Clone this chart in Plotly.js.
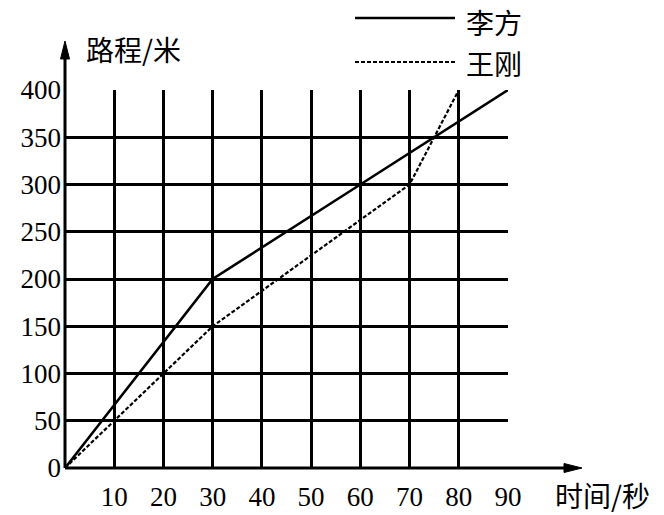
<!DOCTYPE html>
<html><head><meta charset="utf-8">
<script src="https://cdn.plot.ly/plotly-3.0.1.min.js"></script>
<style>body{margin:0;background:#fff}#c{width:664px;height:515px}</style>
</head><body><div id="c"></div>
<script>
// Data
const timeLi = [0, 30, 60, 90];
const distLi = [0, 200, 300, 400];
const timeWang = [0, 30, 70, 80];
const distWang = [0, 150, 300, 400];
const xTicks = [10, 20, 30, 40, 50, 60, 70, 80, 90];
const yTicks = [0, 50, 100, 150, 200, 250, 300, 350, 400];
const nameLi = '李方', nameWang = '王刚';
const xTitle = '时间/秒', yTitle = '路程/米';

const W = 664, H = 515, L = 65, R = 156, T = 90, B = 47;
const pw = W - L - R, ph = H - T - B;
const px = x => (x - L) / pw;
const py = y => (H - B - y) / ph;
const serif = 'Liberation Serif';
const cjk = 'Noto Sans CJK SC';

const traces = [
  {x: timeLi, y: distLi, mode: 'lines', name: nameLi, line: {color: '#000', width: 2.6}, showlegend: false, cliponaxis: false},
  {x: timeWang, y: distWang, mode: 'lines', name: nameWang, line: {color: '#000', width: 2.2, dash: '4px,2px'}, showlegend: false, cliponaxis: false}
];

const shapes = [
  {type: 'line', xref: 'paper', yref: 'paper', x0: 0, x1: px(572), y0: 0, y1: 0, line: {color: '#000', width: 3}},
  {type: 'path', xref: 'paper', yref: 'paper', path: `M ${px(582)} ${py(468)} L ${px(564)} ${py(463.5)} L ${px(564)} ${py(472.5)} Z`, fillcolor: '#000', line: {color: '#000', width: 1}},
  {type: 'line', xref: 'paper', yref: 'paper', x0: 0, x1: 0, y0: 0, y1: py(52), line: {color: '#000', width: 3}},
  {type: 'path', xref: 'paper', yref: 'paper', path: `M ${px(65)} ${py(41)} L ${px(60.5)} ${py(59)} L ${px(69.5)} ${py(59)} Z`, fillcolor: '#000', line: {color: '#000', width: 1}},
  {type: 'line', xref: 'paper', yref: 'paper', x0: px(355), x1: px(455), y0: py(18), y1: py(18), line: {color: '#000', width: 2.6}},
  {type: 'line', xref: 'paper', yref: 'paper', x0: px(355), x1: px(455), y0: py(62), y1: py(62), line: {color: '#000', width: 2.2, dash: '4px,2px'}}
];

const annotations = [
  {xref: 'paper', yref: 'paper', x: px(464), y: py(22), text: nameLi, showarrow: false, xanchor: 'left', yanchor: 'middle', font: {family: cjk, size: 28, color: '#000'}},
  {xref: 'paper', yref: 'paper', x: px(464), y: py(63), text: nameWang, showarrow: false, xanchor: 'left', yanchor: 'middle', font: {family: cjk, size: 28, color: '#000'}},
  {xref: 'paper', yref: 'paper', x: px(84), y: py(49), text: yTitle, showarrow: false, xanchor: 'left', yanchor: 'middle', font: {family: cjk, size: 28, color: '#000'}},
  {xref: 'paper', yref: 'paper', x: px(652), y: py(495), text: xTitle, showarrow: false, xanchor: 'right', yanchor: 'middle', font: {family: cjk, size: 28, color: '#000'}}
];

const layout = {
  width: W, height: H,
  margin: {l: L, r: R, t: T, b: B, pad: 0},
  paper_bgcolor: '#fff', plot_bgcolor: '#fff',
  showlegend: false,
  xaxis: {range: [0, 90], tickvals: xTicks, ticktext: xTicks.map(String), showgrid: true, gridcolor: '#000', gridwidth: 3,
    zeroline: false, showline: false, ticks: '', ticklabelstandoff: 10,
    tickfont: {family: serif, size: 27, color: '#000'}, fixedrange: true},
  yaxis: {range: [0, 400], tickvals: yTicks, ticktext: yTicks.map(String), showgrid: true, gridcolor: '#000', gridwidth: 3,
    zeroline: false, showline: false, ticks: '', ticklabelstandoff: 3,
    tickfont: {family: 'Times New Roman', size: 27, color: '#000'}, fixedrange: true},
  shapes, annotations
};
Plotly.newPlot('c', traces, layout, {staticPlot: true});
</script></body></html>
